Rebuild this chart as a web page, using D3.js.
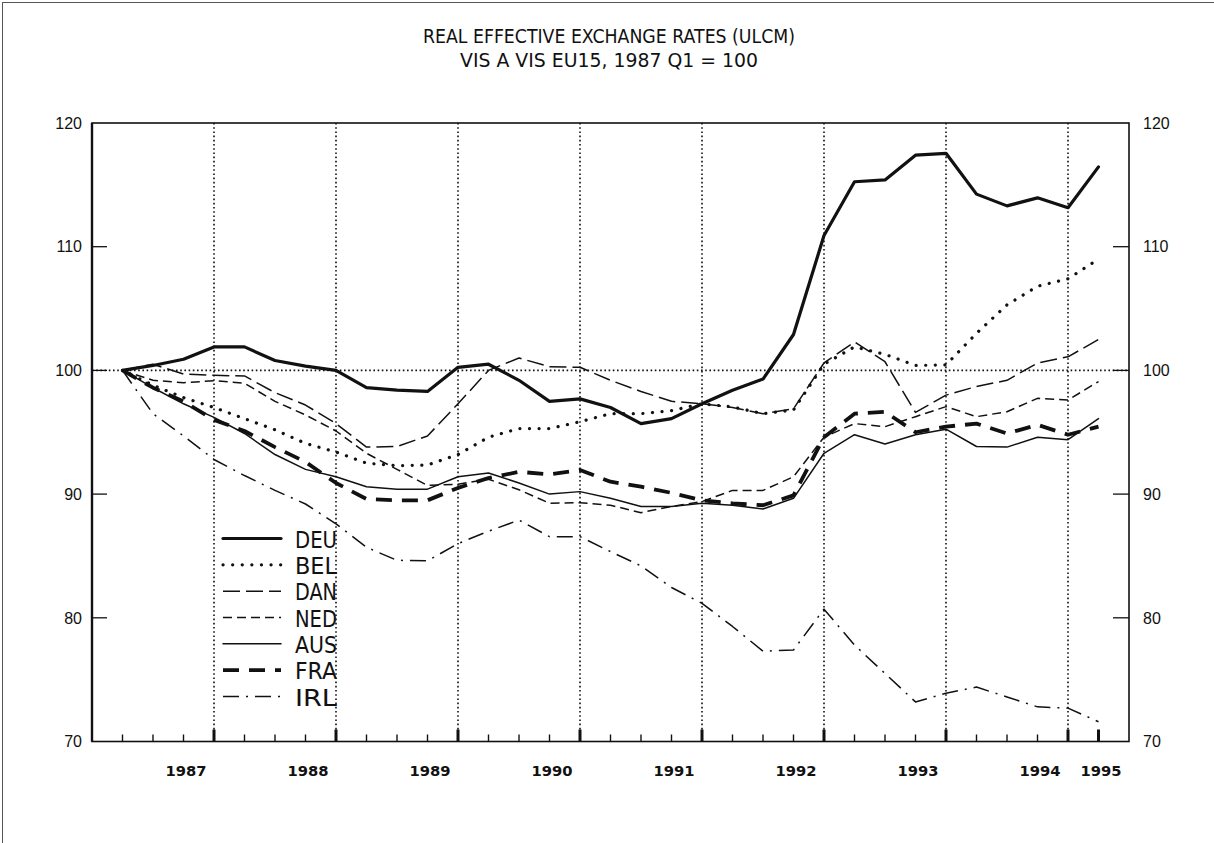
<!DOCTYPE html>
<html>
<head>
<meta charset="utf-8">
<script src="https://cdn.jsdelivr.net/npm/d3@7"></script>
<style>
  html, body { margin: 0; padding: 0; background: #fff; }
  svg { display: block; }
</style>
</head>
<body>
<svg id="chart" width="1214" height="843"></svg>
<script>
// ---------------- data ----------------
const quarters = [
  "1987Q1","1987Q2","1987Q3","1987Q4","1988Q1","1988Q2","1988Q3","1988Q4",
  "1989Q1","1989Q2","1989Q3","1989Q4","1990Q1","1990Q2","1990Q3","1990Q4",
  "1991Q1","1991Q2","1991Q3","1991Q4","1992Q1","1992Q2","1992Q3","1992Q4",
  "1993Q1","1993Q2","1993Q3","1993Q4","1994Q1","1994Q2","1994Q3","1994Q4",
  "1995Q1"
];
const DEU = [100, 100.4, 100.9, 101.9, 101.9, 100.8, 100.35, 100.0, 98.6, 98.4, 98.3, 100.25, 100.5, 99.2, 97.5, 97.7, 97.0, 95.7, 96.1, 97.3, 98.4, 99.3, 102.9, 110.9, 115.25, 115.4, 117.4, 117.55, 114.25, 113.3, 113.95, 113.15, 116.45];
const BEL = [100, 98.8, 97.8, 97.0, 96.1, 95.2, 94.1, 93.4, 92.5, 92.3, 92.35, 93.2, 94.6, 95.3, 95.3, 95.85, 96.5, 96.5, 96.75, 97.3, 97.05, 96.5, 96.8, 100.5, 101.9, 101.3, 100.4, 100.45, 103.0, 105.3, 106.8, 107.4, 109.0];
const DAN = [100, 100.5, 99.7, 99.6, 99.55, 98.2, 97.2, 95.7, 93.8, 93.85, 94.7, 97.3, 100.0, 101.0, 100.3, 100.25, 99.2, 98.3, 97.5, 97.3, 97.0, 96.5, 96.9, 100.6, 102.3, 100.7, 96.6, 98.0, 98.7, 99.2, 100.6, 101.1, 102.5];
const NED = [100, 99.2, 99.0, 99.17, 98.96, 97.5, 96.4, 95.1, 93.3, 92.0, 90.7, 90.8, 91.2, 90.35, 89.26, 89.3, 89.1, 88.5, 89.0, 89.4, 90.3, 90.3, 91.4, 94.6, 95.7, 95.45, 96.26, 97.07, 96.26, 96.66, 97.74, 97.6, 99.1];
const AUS = [100, 98.6, 97.3, 96.2, 94.9, 93.2, 92.0, 91.4, 90.6, 90.4, 90.4, 91.4, 91.7, 90.9, 90.0, 90.2, 89.66, 89.0, 89.0, 89.26, 89.1, 88.8, 89.66, 93.3, 94.8, 94.05, 94.8, 95.25, 93.85, 93.8, 94.6, 94.4, 96.1];
const FRA = [100, 98.6, 97.5, 96.0, 95.1, 93.8, 92.6, 90.9, 89.6, 89.5, 89.5, 90.5, 91.3, 91.8, 91.6, 91.95, 91.0, 90.6, 90.1, 89.5, 89.25, 89.1, 89.9, 94.6, 96.5, 96.65, 95.0, 95.45, 95.7, 94.9, 95.6, 94.8, 95.45];
const IRL = [100, 96.5, 94.7, 92.8, 91.5, 90.3, 89.2, 87.6, 85.7, 84.65, 84.6, 86.0, 87.0, 87.9, 86.56, 86.56, 85.35, 84.2, 82.45, 81.17, 79.3, 77.3, 77.4, 80.7, 77.8, 75.5, 73.2, 73.9, 74.4, 73.6, 72.8, 72.7, 71.6];

const seriesNames = ["DEU", "BEL", "DAN", "NED", "AUS", "FRA", "IRL"];
const seriesValues = [DEU, BEL, DAN, NED, AUS, FRA, IRL];

const yTicks = [70, 80, 90, 100, 110, 120];
const yInnerTicks = [80, 90, 100, 110];
const yearLabels = ["1987","1988","1989","1990","1991","1992","1993","1994","1995"];
const yearLabelAt = ["1987Q3","1988Q3","1989Q3","1990Q3","1991Q3","1992Q3","1993Q3","1994Q3","1995Q1"];
const gridAt = ["1987Q4","1988Q4","1989Q4","1990Q4","1991Q4","1992Q4","1993Q4","1994Q4"];
const majorTickAt = ["1987Q4","1988Q4","1989Q4","1990Q4","1991Q4","1992Q4","1993Q4","1994Q4","1995Q1"];
const titleLines = ["REAL EFFECTIVE EXCHANGE RATES (ULCM)", "VIS A VIS EU15, 1987 Q1 = 100"];

// ---------------- layout / styles ----------------
const frame = { left: 92, right: 1129, top: 123, bottom: 741.5 };
const styles = {
  DEU: { w: 3.2, dash: null, cap: "round" },
  BEL: { w: 3.2, dash: "0.1 9.5", cap: "round" },
  DAN: { w: 1.5, dash: "17 6", cap: "butt" },
  NED: { w: 1.5, dash: "9 5", cap: "butt" },
  AUS: { w: 1.5, dash: null, cap: "round" },
  FRA: { w: 3.8, dash: "16 10", cap: "butt" },
  IRL: { w: 1.5, dash: "16 7 2 7", cap: "butt" }
};

const svg = d3.select("#chart");
const qi = q => quarters.indexOf(q);

const x = d3.scaleLinear().domain([0, quarters.length - 1]).range([122.5, 1098.5]);
const y = d3.scaleLinear().domain([70, 120]).range([frame.bottom, frame.top]);

// page border (top & left)
svg.append("line").attr("x1", 2).attr("x2", 1214).attr("y1", 2.5).attr("y2", 2.5)
  .attr("stroke", "#555").attr("stroke-width", 1);
svg.append("line").attr("x1", 2.5).attr("x2", 2.5).attr("y1", 2).attr("y2", 843)
  .attr("stroke", "#555").attr("stroke-width", 1);

// title
const tfont = "'Liberation Sans Narrow', 'DejaVu Sans', sans-serif";
svg.append("text").attr("x", 609).attr("y", 43).attr("text-anchor", "middle")
  .attr("font-family", tfont).attr("font-size", 20).attr("fill", "#111")
  .attr("textLength", 372).attr("lengthAdjust", "spacingAndGlyphs")
  .text(titleLines[0]);
svg.append("text").attr("x", 609).attr("y", 67).attr("text-anchor", "middle")
  .attr("font-family", tfont).attr("font-size", 20).attr("fill", "#111")
  .attr("textLength", 298).attr("lengthAdjust", "spacingAndGlyphs")
  .text(titleLines[1]);

// dotted vertical gridlines
svg.append("g").selectAll("line").data(gridAt).join("line")
  .attr("x1", d => x(qi(d))).attr("x2", d => x(qi(d)))
  .attr("y1", frame.top).attr("y2", frame.bottom)
  .attr("stroke", "#111").attr("stroke-width", 1.6)
  .attr("stroke-dasharray", "1.6 2.6");

// dotted 100 line
svg.append("line").attr("x1", frame.left).attr("x2", frame.right)
  .attr("y1", y(100)).attr("y2", y(100))
  .attr("stroke", "#111").attr("stroke-width", 1.6).attr("stroke-dasharray", "1.6 2.6");

// frame
svg.append("rect").attr("x", frame.left).attr("y", frame.top)
  .attr("width", frame.right - frame.left).attr("height", frame.bottom - frame.top)
  .attr("fill", "none").attr("stroke", "#111").attr("stroke-width", 1.6);
svg.append("line").attr("x1", frame.left).attr("x2", frame.left)
  .attr("y1", frame.top).attr("y2", frame.bottom).attr("stroke", "#111").attr("stroke-width", 2.4);

// y inner ticks
const yt = svg.append("g");
yt.selectAll("line.l").data(yInnerTicks).join("line").attr("class", "l")
  .attr("x1", frame.left).attr("x2", frame.left + 15)
  .attr("y1", d => y(d)).attr("y2", d => y(d)).attr("stroke", "#111").attr("stroke-width", 1.3);
yt.selectAll("line.r").data(yInnerTicks).join("line").attr("class", "r")
  .attr("x1", frame.right - 16).attr("x2", frame.right)
  .attr("y1", d => y(d)).attr("y2", d => y(d)).attr("stroke", "#111").attr("stroke-width", 1.3);

// y labels
const yfont = "'Liberation Sans', Arial, sans-serif";
yt.selectAll("text.l").data(yTicks).join("text").attr("class", "l")
  .attr("x", 82).attr("y", d => y(d)).attr("dy", "0.36em")
  .attr("text-anchor", "end").attr("font-family", yfont).attr("font-size", 16).attr("fill", "#111")
  .text(d => d);
yt.selectAll("text.r").data(yTicks).join("text").attr("class", "r")
  .attr("x", 1143).attr("y", d => y(d)).attr("dy", "0.36em")
  .attr("text-anchor", "start").attr("font-family", yfont).attr("font-size", 16).attr("fill", "#111")
  .text(d => d);

// x ticks
const xt = svg.append("g");
xt.selectAll("line.minor").data(quarters.filter(q => !majorTickAt.includes(q))).join("line")
  .attr("class", "minor")
  .attr("x1", d => x(qi(d))).attr("x2", d => x(qi(d)))
  .attr("y1", frame.bottom).attr("y2", frame.bottom - 7)
  .attr("stroke", "#111").attr("stroke-width", 1.4);
xt.selectAll("line.major").data(majorTickAt).join("line")
  .attr("class", "major")
  .attr("x1", d => x(qi(d))).attr("x2", d => x(qi(d)))
  .attr("y1", frame.bottom).attr("y2", frame.bottom - 12)
  .attr("stroke", "#111").attr("stroke-width", 3);

// year labels
xt.selectAll("text").data(yearLabels).join("text")
  .attr("x", (d, i) => x(qi(yearLabelAt[i])) + 2.5)
  .attr("y", 776)
  .attr("text-anchor", "middle")
  .attr("font-family", "'DejaVu Sans', sans-serif").attr("font-weight", "bold")
  .attr("font-size", 13.5).attr("fill", "#111")
  .attr("textLength", 41).attr("lengthAdjust", "spacingAndGlyphs")
  .text(d => d);

// series lines
const line = d3.line().x((d, i) => x(i)).y(d => y(d)).curve(d3.curveLinear);
const lg = svg.append("g");
seriesNames.forEach((name, k) => {
  const s = styles[name];
  lg.append("path").datum(seriesValues[k])
    .attr("d", line)
    .attr("fill", "none").attr("stroke", "#111")
    .attr("stroke-width", s.w)
    .attr("stroke-linejoin", "round")
    .attr("stroke-linecap", s.cap)
    .attr("stroke-dasharray", s.dash);
});

// legend
const legY = d3.scalePoint().domain(seriesNames).range([538.5, 696.5]);
const leg = svg.append("g");
seriesNames.forEach(name => {
  const s = styles[name];
  const yy = legY(name);
  leg.append("line").attr("x1", 223).attr("x2", 281).attr("y1", yy).attr("y2", yy)
    .attr("stroke", "#111").attr("stroke-width", s.w)
    .attr("stroke-linecap", s.cap).attr("stroke-dasharray", s.dash);
  leg.append("text").attr("x", 337).attr("y", yy + 9)
    .attr("text-anchor", "end")
    .attr("font-family", tfont).attr("font-size", 23).attr("fill", "#111")
    .attr("textLength", 42).attr("lengthAdjust", "spacingAndGlyphs")
    .text(name);
});
</script>
</body>
</html>
